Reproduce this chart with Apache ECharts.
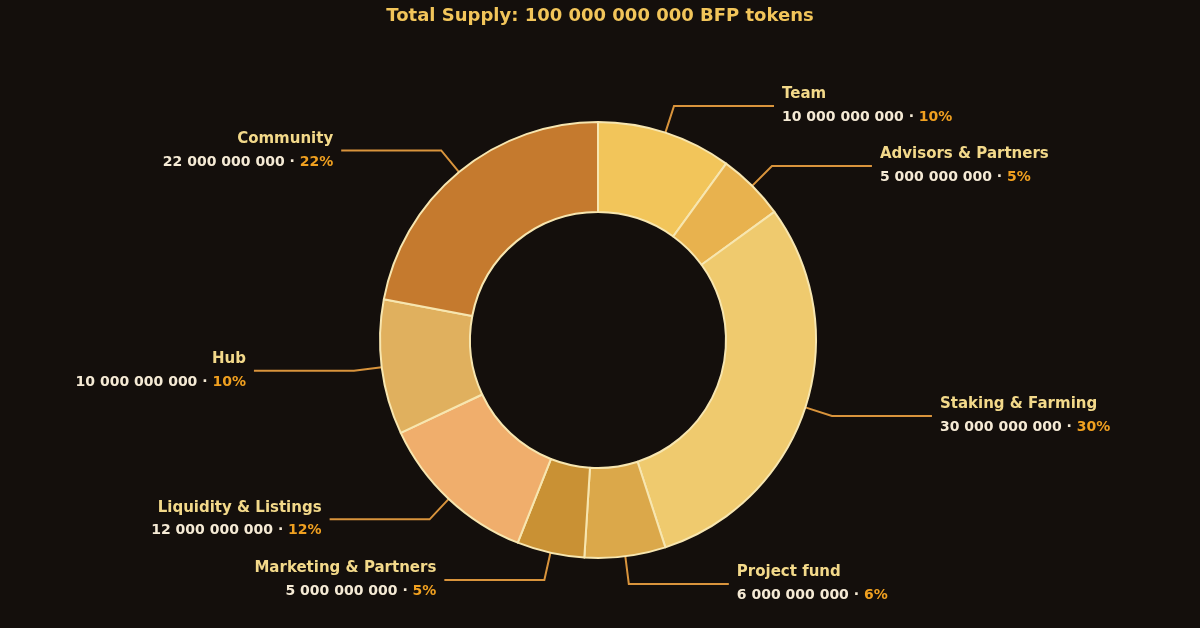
<!DOCTYPE html>
<html><head><meta charset="utf-8">
<script src="https://cdn.jsdelivr.net/npm/echarts@6/dist/echarts.min.js"></script>
<style>html,body{margin:0;background:#140f0c}#c{width:1200px;height:628px}</style>
</head><body><div id="c"></div>
<script>
const names = ['Team','Advisors & Partners','Staking & Farming','Project fund','Marketing & Partners','Liquidity & Listings','Hub','Community'];
const amounts = [10000000000,5000000000,30000000000,6000000000,5000000000,12000000000,10000000000,22000000000];
const percents = [10,5,30,6,5,12,10,22];
const colors = ['#f2c55a','#e8b24e','#efca6e','#dba84a','#c99134','#f0ae6c','#e0b05e','#c57a2e'];
const fmt = n => String(n).replace(/\B(?=(\d{3})+(?!\d))/g,' ');
const chart = echarts.init(document.getElementById('c'));
chart.setOption({
  backgroundColor:'#140f0c',
  title:{text:'Total Supply: 100 000 000 000 BFP tokens',left:'center',top:2,
    textStyle:{color:'#f2c55a',fontSize:18,fontWeight:'bold',fontFamily:'DejaVu Sans'}},
  series:[{
    type:'pie',center:[598,340],radius:[128,218],startAngle:90,clockwise:true,
    itemStyle:{borderColor:'#f7e6b0',borderWidth:2},
    label:{
      formatter:p=>'{n|'+p.name+'}\n{v|'+fmt(p.value)+' · }{p|'+percents[p.dataIndex]+'%}',
      rich:{
        n:{color:'#f3d98a',fontSize:15,fontWeight:'bold',fontFamily:'DejaVu Sans',lineHeight:23},
        v:{color:'#f5ead5',fontSize:14,fontWeight:'bold',fontFamily:'DejaVu Sans',lineHeight:23},
        p:{color:'#f0a020',fontSize:14,fontWeight:'bold',fontFamily:'DejaVu Sans',lineHeight:23}
      },
      distanceToLabelLine:8
    },
    labelLine:{length:28,length2:100,lineStyle:{color:'#d9943c',width:2}},
    data:names.map((n,i)=>({name:n,value:amounts[i],itemStyle:{color:colors[i]}}))
  }]
});
</script></body></html>
